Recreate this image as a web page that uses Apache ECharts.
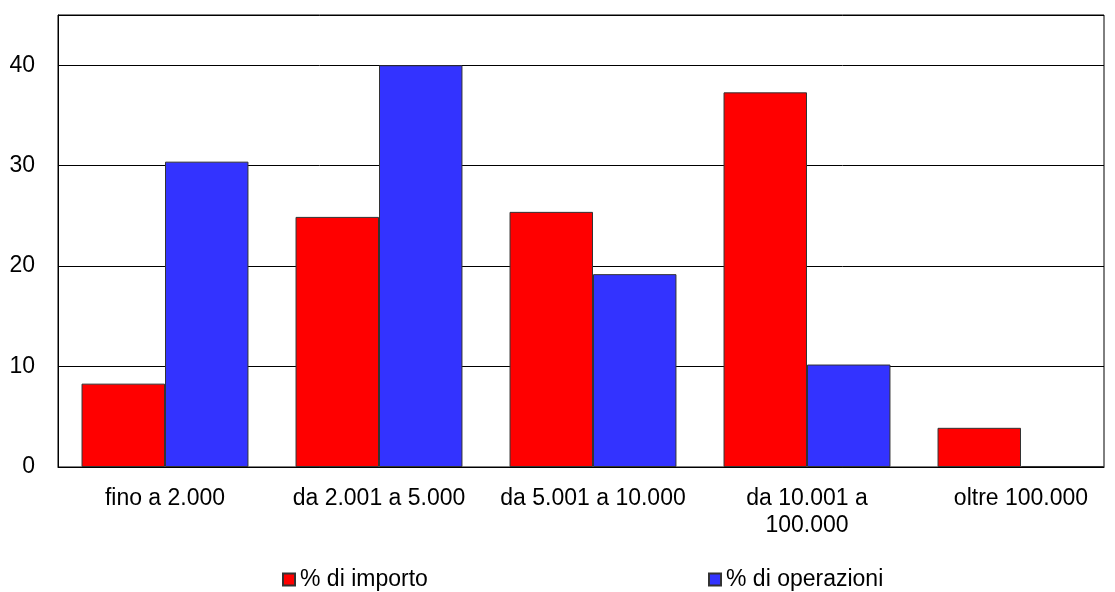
<!DOCTYPE html>
<html><head><meta charset="utf-8">
<script src="https://cdn.jsdelivr.net/npm/echarts@6/dist/echarts.min.js"></script>
<style>html,body{margin:0;padding:0;background:#fff}#c{width:1115px;height:592px}</style>
</head><body><div id="c"></div>
<script>
const categories = ["fino a 2.000", "da 2.001 a 5.000", "da 5.001 a 10.000", "da 10.001 a\n100.000", "oltre 100.000"];
const seriesNames = ["% di importo", "% di operazioni"];
const importo = [8.3, 24.9, 25.4, 37.3, 3.9];
const operazioni = [30.4, 40.0, 19.2, 10.2, 0.1];
const yTicks = [0, 10, 20, 30, 40];

const FONT = "'Liberation Sans', Arial, sans-serif";
const chart = echarts.init(document.getElementById('c'), null, {renderer: 'canvas'});
chart.setOption({
  animation: false,
  backgroundColor: '#fff',
  textStyle: {fontFamily: FONT, color: '#000'},
  grid: [
    {left: 58, right: 11, top: 15, bottom: 125, show: true, borderColor: '#000', borderWidth: 1, backgroundColor: 'transparent', outerBoundsMode: 'none'},
    {left: 58, width: 1070, top: 15, bottom: 125, show: false, outerBoundsMode: 'none'}
  ],
  legend: [
    {data: [seriesNames[0]], left: 282, top: 568, padding: 0, itemWidth: 12, itemHeight: 12, itemGap: 0, icon: 'rect',
     textStyle: {fontFamily: FONT, fontSize: 23, color: '#000'}},
    {data: [seriesNames[1]], left: 708, top: 568, padding: 0, itemWidth: 12, itemHeight: 12, itemGap: 0, icon: 'rect',
     textStyle: {fontFamily: FONT, fontSize: 23, color: '#000'}}
  ],
  xAxis: [
    {gridIndex: 0, type: 'category', data: categories,
     axisLine: {show: true, lineStyle: {color: '#000', width: 1}},
     axisTick: {show: false}, axisLabel: {show: false}},
    {gridIndex: 1, type: 'category', data: categories,
     axisLine: {show: false},
     axisTick: {show: false},
     axisLabel: {fontFamily: FONT, fontSize: 23, color: '#000', margin: 18, lineHeight: 27, interval: 0}}
  ],
  yAxis: [
    {gridIndex: 0, type: 'value', min: 0, max: 45, interval: 10,
     axisLine: {show: true, lineStyle: {color: '#000'}},
     axisTick: {show: false},
     splitLine: {show: true, lineStyle: {color: '#000', width: 1}},
     axisLabel: {fontFamily: FONT, fontSize: 23, color: '#000', margin: 23,
       formatter: v => yTicks.includes(v) ? String(v) : ''}},
    {gridIndex: 1, type: 'value', min: 0, max: 45, interval: 10, show: false,
     splitLine: {show: false}}
  ],
  series: [
    {name: seriesNames[0], type: 'bar', xAxisIndex: 1, yAxisIndex: 1, data: importo, barGap: '0%', barCategoryGap: '22%',
     itemStyle: {color: '#FF0000', borderColor: '#333', borderWidth: 1}},
    {name: seriesNames[1], type: 'bar', xAxisIndex: 1, yAxisIndex: 1, data: operazioni, barGap: '0%', barCategoryGap: '22%',
     itemStyle: {color: '#3333FF', borderColor: '#333', borderWidth: 1}}
  ]
});
</script></body></html>
